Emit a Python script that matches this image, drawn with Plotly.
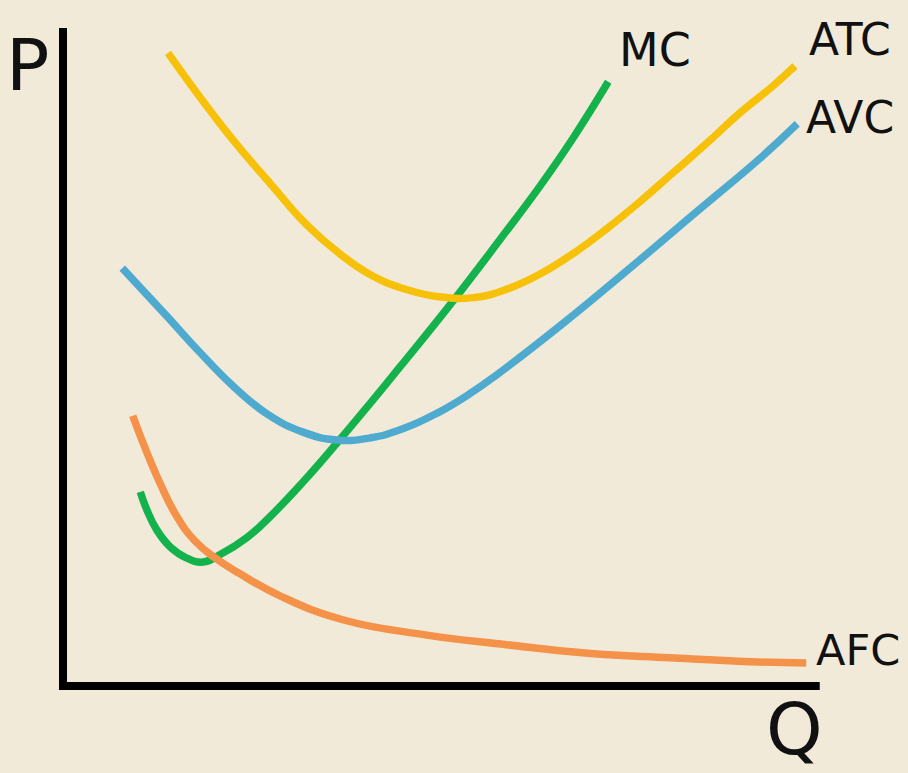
import plotly.graph_objects as go

# Quantity (Q) and price/cost (P) values (arbitrary units)
mc_q = [1.03, 1.12, 1.25, 1.43, 1.65, 1.87, 2.09, 2.45, 2.76, 3.20, 3.65, 4.09, 4.49, 5.16, 5.83, 6.36, 6.80, 7.27]
mc_p = [2.96, 2.68, 2.38, 2.12, 1.95, 1.89, 2.00, 2.26, 2.58, 3.11, 3.70, 4.30, 4.86, 5.81, 6.81, 7.62, 8.35, 9.21]

atc_q = [1.40, 2.13, 2.80, 3.25, 3.69, 4.13, 4.59, 5.03, 5.47, 5.92, 6.36, 6.80, 7.25, 7.69, 8.13, 8.59, 9.03, 9.47, 9.76]
atc_p = [9.65, 8.52, 7.61, 7.03, 6.59, 6.25, 6.04, 5.93, 5.92, 6.05, 6.28, 6.59, 6.97, 7.38, 7.82, 8.28, 8.74, 9.15, 9.45]

avc_q = [0.79, 1.39, 1.83, 2.27, 2.73, 3.20, 3.65, 4.09, 4.53, 4.99, 5.43, 5.79, 6.67, 7.56, 8.45, 9.33, 9.79]
avc_p = [6.37, 5.63, 5.08, 4.57, 4.14, 3.87, 3.75, 3.78, 3.92, 4.16, 4.46, 4.75, 5.53, 6.37, 7.23, 8.08, 8.57]

afc_q = [0.93, 1.09, 1.29, 1.52, 1.76, 2.03, 2.36, 2.92, 3.73, 4.83, 5.91, 7.00, 8.09, 9.17, 9.91]
afc_p = [4.12, 3.64, 3.10, 2.58, 2.21, 1.95, 1.71, 1.36, 1.01, 0.78, 0.63, 0.50, 0.43, 0.37, 0.35]

curve_names = ["MC", "ATC", "AVC", "AFC"]
curve_colors = ["#13B24C", "#F7C10A", "#4EABCF", "#F4924A"]

fig = go.Figure()

# axes drawn as thick black lines
fig.add_shape(type="path", path="M 0,10.03 L 0,0 L 10.09,0",
              line=dict(color="black", width=8), xref="x", yref="y")

series = [(mc_q, mc_p), (atc_q, atc_p), (avc_q, avc_p), (afc_q, afc_p)]
for (q, p), name, col in zip(series, curve_names, curve_colors):
    fig.add_trace(go.Scatter(x=q, y=p, mode="lines", name=name,
                             line=dict(color=col, width=7.5, shape="spline", smoothing=1.3),
                             hoverinfo="skip"))

font_family = "DejaVu Sans"
labels = [
    ("P", -0.48, 9.47, 72, "middle"),
    ("MC", 7.89, 9.70, 46, "middle"),
    ("ATC", 10.49, 9.85, 44, "middle"),
    ("AVC", 10.49, 8.66, 44, "middle"),
    ("AFC", 10.60, 0.55, 43, "middle"),
]
for txt, x, y, size, ya in labels:
    fig.add_annotation(x=x, y=y, text=txt, showarrow=False, xref="x", yref="y",
                       xanchor="center", yanchor=ya,
                       font=dict(family=font_family, size=size, color="#111111"))
# Q label sits at the bottom edge
fig.add_annotation(x=9.76, y=-1.32, text="Q", showarrow=False, xref="x", yref="y",
                   xanchor="center", yanchor="bottom",
                   font=dict(family=font_family, size=72, color="#111111"))

fig.update_layout(
    width=908, height=773,
    margin=dict(l=0, r=0, t=0, b=0),
    paper_bgcolor="#F2EAD9", plot_bgcolor="#F2EAD9",
    showlegend=False,
    xaxis=dict(range=[-0.84, 11.267], visible=False, showgrid=False, zeroline=False, fixedrange=True),
    yaxis=dict(range=[-1.326, 10.457], visible=False, showgrid=False, zeroline=False, fixedrange=True),
)

fig.write_html("out.html", config={"displayModeBar": False, "staticPlot": True},
               post_script="document.body.style.margin='0';document.body.style.padding='0';document.body.style.background='#F2EAD9';")
